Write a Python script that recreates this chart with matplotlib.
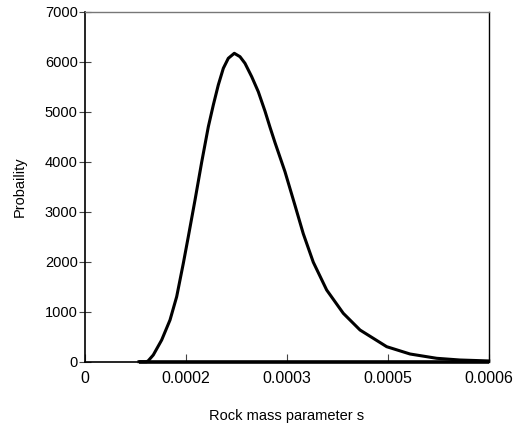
import numpy as np
import matplotlib.pyplot as plt

plt.rcParams['font.family'] = ['Liberation Sans', 'DejaVu Sans']

# values
s = [0.0000799, 0.0000913, 0.0000937, 0.0001011, 0.0001136, 0.000126, 0.0001359,
     0.0001458, 0.0001532, 0.0001632, 0.0001731, 0.000183, 0.0001904, 0.0001978,
     0.0002053, 0.0002127, 0.0002216, 0.0002301, 0.0002375, 0.0002475, 0.0002573,
     0.0002673, 0.0002747, 0.0002822, 0.000297, 0.0003118, 0.0003242, 0.0003391,
     0.000359, 0.0003837, 0.0004086, 0.0004483, 0.000483, 0.0005227, 0.000557,
     0.0006]
prob = [0, 0, 20, 134, 434, 834, 1300,
        1968, 2500, 3234, 3990, 4700, 5134, 5534,
        5868, 6068, 6168, 6100, 5968, 5700, 5400,
        5010, 4690, 4380, 3800, 3130, 2560, 1990,
        1434, 968, 634, 300, 154, 68, 34,
        15]
base_s = [0.0000799, 0.0006]
base_p = [0, 0]

xticks = [0, 0.00015, 0.0003, 0.00045, 0.0006]
xticklabels = ['0', '0.0002', '0.0003', '0.0005', '0.0006']
yticks = [0, 1000, 2000, 3000, 4000, 5000, 6000, 7000]

fig = plt.figure(figsize=(5.19, 4.29), dpi=100)
ax = fig.add_axes([85.3 / 519, (429 - 361.7) / 429, 403.4 / 519, 350 / 429])

ax.plot(base_s, base_p, color='black', lw=2.6, solid_capstyle='butt', clip_on=False)
ax.plot(s, prob, color='black', lw=2.2, clip_on=False, solid_joinstyle='round')

ax.set_xlim(0, 0.0006)
ax.set_ylim(0, 7000)
ax.set_xticks(xticks)
ax.set_xticklabels(xticklabels)
ax.set_yticks(yticks)

ax.tick_params(axis='x', direction='in', length=6, width=0.8, color='#444444',
               labelsize=11.5, pad=7)
ax.tick_params(axis='y', direction='inout', length=9, width=0.8, color='#444444',
               labelsize=10.5, pad=1)

for side in ['left', 'bottom']:
    ax.spines[side].set_linewidth(1.2)
    ax.spines[side].set_color('black')
ax.spines['right'].set_linewidth(1.0)
ax.spines['top'].set_color('#777777')
ax.spines['top'].set_linewidth(1.0)

ax.set_xlabel('Rock mass parameter s', fontsize=10.5, labelpad=16)
ax.set_ylabel('Probaility', fontsize=10.5, labelpad=13)

fig.savefig('out.png', dpi=100)
